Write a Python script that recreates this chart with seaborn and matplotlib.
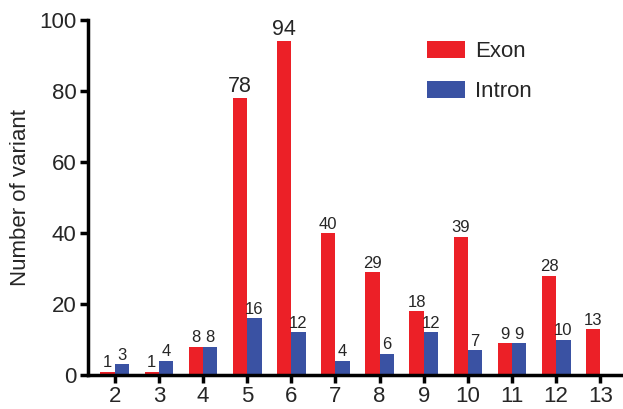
import matplotlib
matplotlib.use("Agg")
import matplotlib.pyplot as plt
import numpy as np
import pandas as pd
import seaborn as sns


# Values
categories = ["2", "3", "4", "5", "6", "7", "8", "9", "10", "11", "12", "13"]
exon_counts = [1, 1, 8, 78, 94, 40, 29, 18, 39, 9, 28, 13]
intron_counts = [3, 4, 8, 16, 12, 4, 6, 12, 7, 9, 10, np.nan]
series_names = ["Exon", "Intron"]
series_colors = ["#EC2027", "#3A52A3"]

df = pd.DataFrame({
    "category": categories * 2,
    "count": exon_counts + intron_counts,
    "type": [series_names[0]] * len(categories) + [series_names[1]] * len(categories),
})

sns.set_style("ticks")
plt.rcParams["font.family"] = ["Liberation Sans", "DejaVu Sans"]

fig = plt.figure(figsize=(6.23, 4.09), dpi=100)
ax = fig.add_axes([0.141, 0.083, 0.858, 0.868])

sns.barplot(
    data=df,
    x="category",
    y="count",
    hue="type",
    order=categories,
    hue_order=series_names,
    palette=series_colors,
    width=0.65,
    saturation=1,
    linewidth=0,
    ax=ax,
)

# Value labels over the bars
for container in ax.containers:
    values = container.datavalues
    labels = ["" if np.isnan(v) else f"{int(v)}" for v in values]
    texts = ax.bar_label(container, labels=labels, padding=1, fontsize=12)
    for text, v in zip(texts, values):
        if not np.isnan(v) and v > 50:
            text.set_fontsize(15.5)

ax.set_ylim(0, 100)
ax.set_xlim(-0.61, 11.5)
ax.set_yticks([0, 20, 40, 60, 80, 100])
ax.set_xlabel("")
ax.set_ylabel("Number of variant", fontsize=16, labelpad=6)
ax.tick_params(axis="both", labelsize=16, width=2.5, length=6, color="black", pad=2)

for side in ["top", "right"]:
    ax.spines[side].set_visible(False)
for side in ["left", "bottom"]:
    ax.spines[side].set_linewidth(2.5)
    ax.spines[side].set_color("black")

ax.legend(
    frameon=False,
    fontsize=16,
    loc="upper left",
    bbox_to_anchor=(427 / 623, 1 - 41 / 409),
    bbox_transform=fig.transFigure,
    borderaxespad=0,
    borderpad=0,
    handlelength=1.7,
    handleheight=0.8,
    handletextpad=0.45,
    labelspacing=0.85,
)

fig.savefig("out.png", dpi=100)
